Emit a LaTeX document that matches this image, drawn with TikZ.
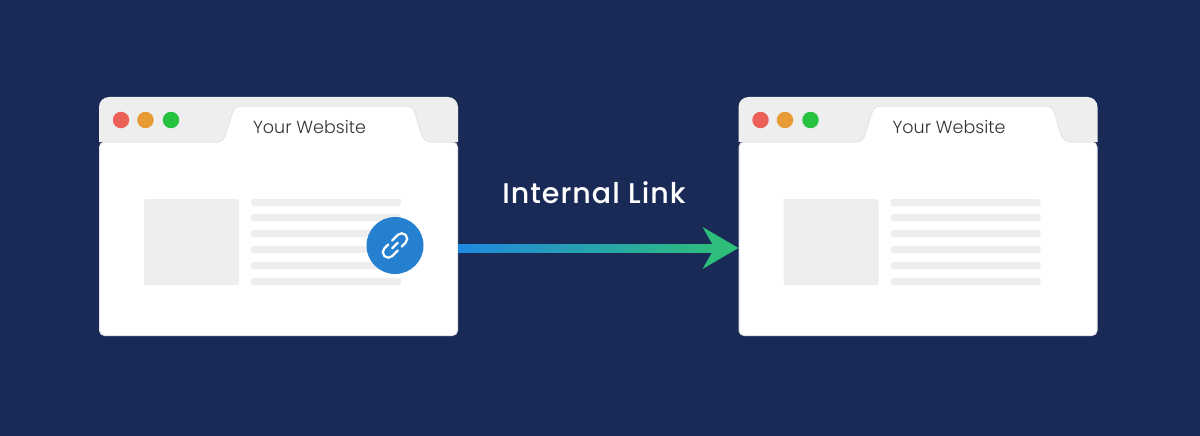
\documentclass[tikz,border=0pt]{standalone}
\usepackage{fontspec}
\setmainfont{Poppins}
\newfontfamily\titlefont{Poppins Light}
\newfontfamily\labelfont{Poppins Medium}
\usetikzlibrary{calc}
\definecolor{pagebg}{HTML}{192A56}
\definecolor{chrome}{HTML}{EEEEEE}
\definecolor{chromeline}{HTML}{E3E4E8}
\definecolor{dotred}{HTML}{EC6157}
\definecolor{dotorange}{HTML}{E89B35}
\definecolor{dotgreen}{HTML}{26C240}
\definecolor{linkblue}{HTML}{2581D0}
\definecolor{shaftblue}{HTML}{2088E0}
\definecolor{linkgreen}{HTML}{2EBE7B}
\tikzset{
  window/.style={minimum width=359pt,minimum height=239pt,inner sep=0pt,outer sep=0pt},
  dot/.style={circle,minimum size=16.5pt,inner sep=0pt},
  textbar/.style={chrome,rounded corners=2.5pt},
}
% one browser window, #1 = name, #2 = shift in x
\newcommand{\browser}[2]{
\node[window] (#1) at (278.5+#2,216.5) {};
\fill[chrome] (99+#2,142) -- (99+#2,107) arc (180:270:10) -- (448+#2,97) arc (270:360:10) -- (458+#2,142) -- cycle;
\fill[white,draw=chromeline,line width=1pt] (99.5+#2,147) arc (180:270:5) -- (217+#2,142)
  .. controls (221+#2,142) and (223+#2,140) .. (225+#2,136) -- (232+#2,114)
  .. controls (234+#2,108) and (236+#2,106) .. (241+#2,106) -- (406+#2,106)
  .. controls (411+#2,106) and (413+#2,108) .. (415+#2,113) -- (421+#2,133)
  .. controls (423+#2,139) and (426+#2,142) .. (431+#2,142) -- (452.5+#2,142) arc (270:360:5)
  -- (457.5+#2,330.5) arc (0:90:5) -- (104.5+#2,335.5) arc (90:180:5) -- cycle;
\node[dot,fill=dotred] (#1red) at (121+#2,120) {};
\node[dot,fill=dotorange] (#1orange) at (145.5+#2,120) {};
\node[dot,fill=dotgreen] (#1green) at (171+#2,120) {};
\node[text=black!80,font=\titlefont\fontsize{17.5pt}{19pt}\selectfont] (#1title) at (309.5+#2,127) {Your Website};
\fill[chrome,rounded corners=2pt] (144+#2,199) rectangle (239+#2,285);
\fill[textbar] (251+#2,199) rectangle (401+#2,206);
\fill[textbar] (251+#2,214) rectangle (401+#2,221);
\fill[textbar] (251+#2,230) rectangle (401+#2,237);
\fill[textbar] (251+#2,246) rectangle (401+#2,253);
\fill[textbar] (251+#2,262) rectangle (401+#2,269);
\fill[textbar] (251+#2,278) rectangle (401+#2,285);
}
\begin{document}
\begin{tikzpicture}[x=1pt,y=-1pt]
\useasboundingbox (0,0) rectangle (1200,436);
\fill[pagebg] (0,0) rectangle (1200,436);
%
\browser{leftwin}{0}
\browser{rightwin}{639.5}
%
\node[circle,fill=linkblue,minimum size=57pt,inner sep=0pt] (linkbadge) at (395,245.5) {};
\begin{scope}[shift={(linkbadge.center)},x=1pt,y=1pt,rotate=45,white,line width=2.2pt,line cap=round]
\draw (1.5,5.5) -- (9.5,5.5) arc (90:-90:5.5) -- (4,-5.5);
\draw (-1.5,-5.5) -- (-9.5,-5.5) arc (270:90:5.5) -- (-4,5.5);
\draw (-4,0) -- (4,0);
\end{scope}
%
\coordinate (linkstart) at (leftwin.east |- 0,248);
\coordinate (linkend) at (rightwin.west |- 0,248);
\shade[left color=shaftblue,right color=linkgreen] ($(linkstart)+(0,-4)$) rectangle ($(linkend)+(-20,4)$);
\fill[linkgreen] (linkend) -- ($(linkend)+(-36,-21)$) -- ($(linkend)+(-24,0)$) -- ($(linkend)+(-36,21)$) -- cycle;
\node[white,font=\labelfont\fontsize{28.5pt}{30pt}\selectfont\addfontfeature{LetterSpace=3.5}] (linklabel) at (594,193) {Internal Link};
\end{tikzpicture}
\end{document}
